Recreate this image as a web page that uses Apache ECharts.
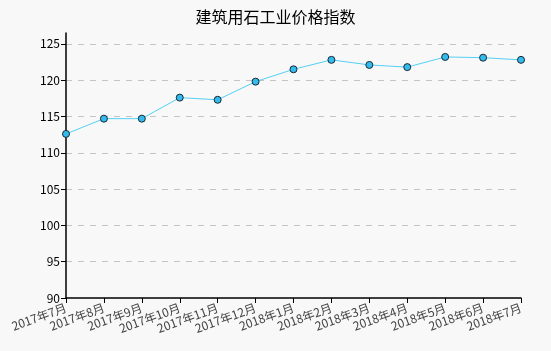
<!DOCTYPE html>
<html>
<head>
<meta charset="utf-8">
<script src="https://cdn.jsdelivr.net/npm/echarts@6/dist/echarts.min.js"></script>
<style>
  html, body { margin: 0; padding: 0; background: #f8f8f8; }
  #main { width: 551px; height: 351px; }
</style>
</head>
<body>
<div id="main"></div>
<script>
var months = [
  "2017年7月", "2017年8月", "2017年9月", "2017年10月", "2017年11月", "2017年12月",
  "2018年1月", "2018年2月", "2018年3月", "2018年4月", "2018年5月", "2018年6月", "2018年7月"
];
var indexValues = [112.6, 114.7, 114.7, 117.6, 117.3, 119.8, 121.5, 122.8, 122.1, 121.8, 123.2, 123.1, 122.8];

(function () {
  var myChart = echarts.init(document.getElementById("main"));
  var option = {
    backgroundColor: "#f8f8f8",
    animation: false,
    title: {
      text: "建筑用石工业价格指数",
      left: "center",
      top: 4,
      textStyle: { color: "#000", fontSize: 16, fontWeight: "normal", fontFamily: "Noto Sans CJK SC" }
    },
    grid: { left: 66, right: 30, top: 33, bottom: 53 },
    xAxis: {
      type: "category",
      data: months,
      boundaryGap: false,
      axisLine: { lineStyle: { color: "#000", width: 1.5 } },
      axisTick: { alignWithLabel: true, length: 5, lineStyle: { color: "#000" } },
      axisLabel: {
        rotate: 20,
        interval: 0,
        color: "#444",
        fontSize: 12,
        margin: 9,
        fontFamily: "Noto Sans CJK SC"
      }
    },
    yAxis: {
      type: "value",
      min: 90,
      max: 126.5,
      interval: 5,
      axisLine: { show: true, lineStyle: { color: "#000", width: 1.5 } },
      axisTick: { show: true, length: 5, lineStyle: { color: "#000" } },
      axisLabel: {
        color: "#000",
        fontSize: 12,
        margin: 6,
        fontFamily: "Noto Sans CJK SC",
        showMaxLabel: false
      },
      splitLine: {
        showMaxLine: false,
        showMinLine: false,
        lineStyle: { color: "#c4c4c4", type: [6, 6] }
      }
    },
    series: [
      {
        type: "line",
        data: indexValues,
        symbol: "circle",
        symbolSize: 7,
        lineStyle: { color: "#55d0f5", width: 1 },
        itemStyle: { color: "#33bbee", borderColor: "#1a2a35", borderWidth: 1 }
      }
    ]
  };
  myChart.setOption(option);
})();
</script>
</body>
</html>
